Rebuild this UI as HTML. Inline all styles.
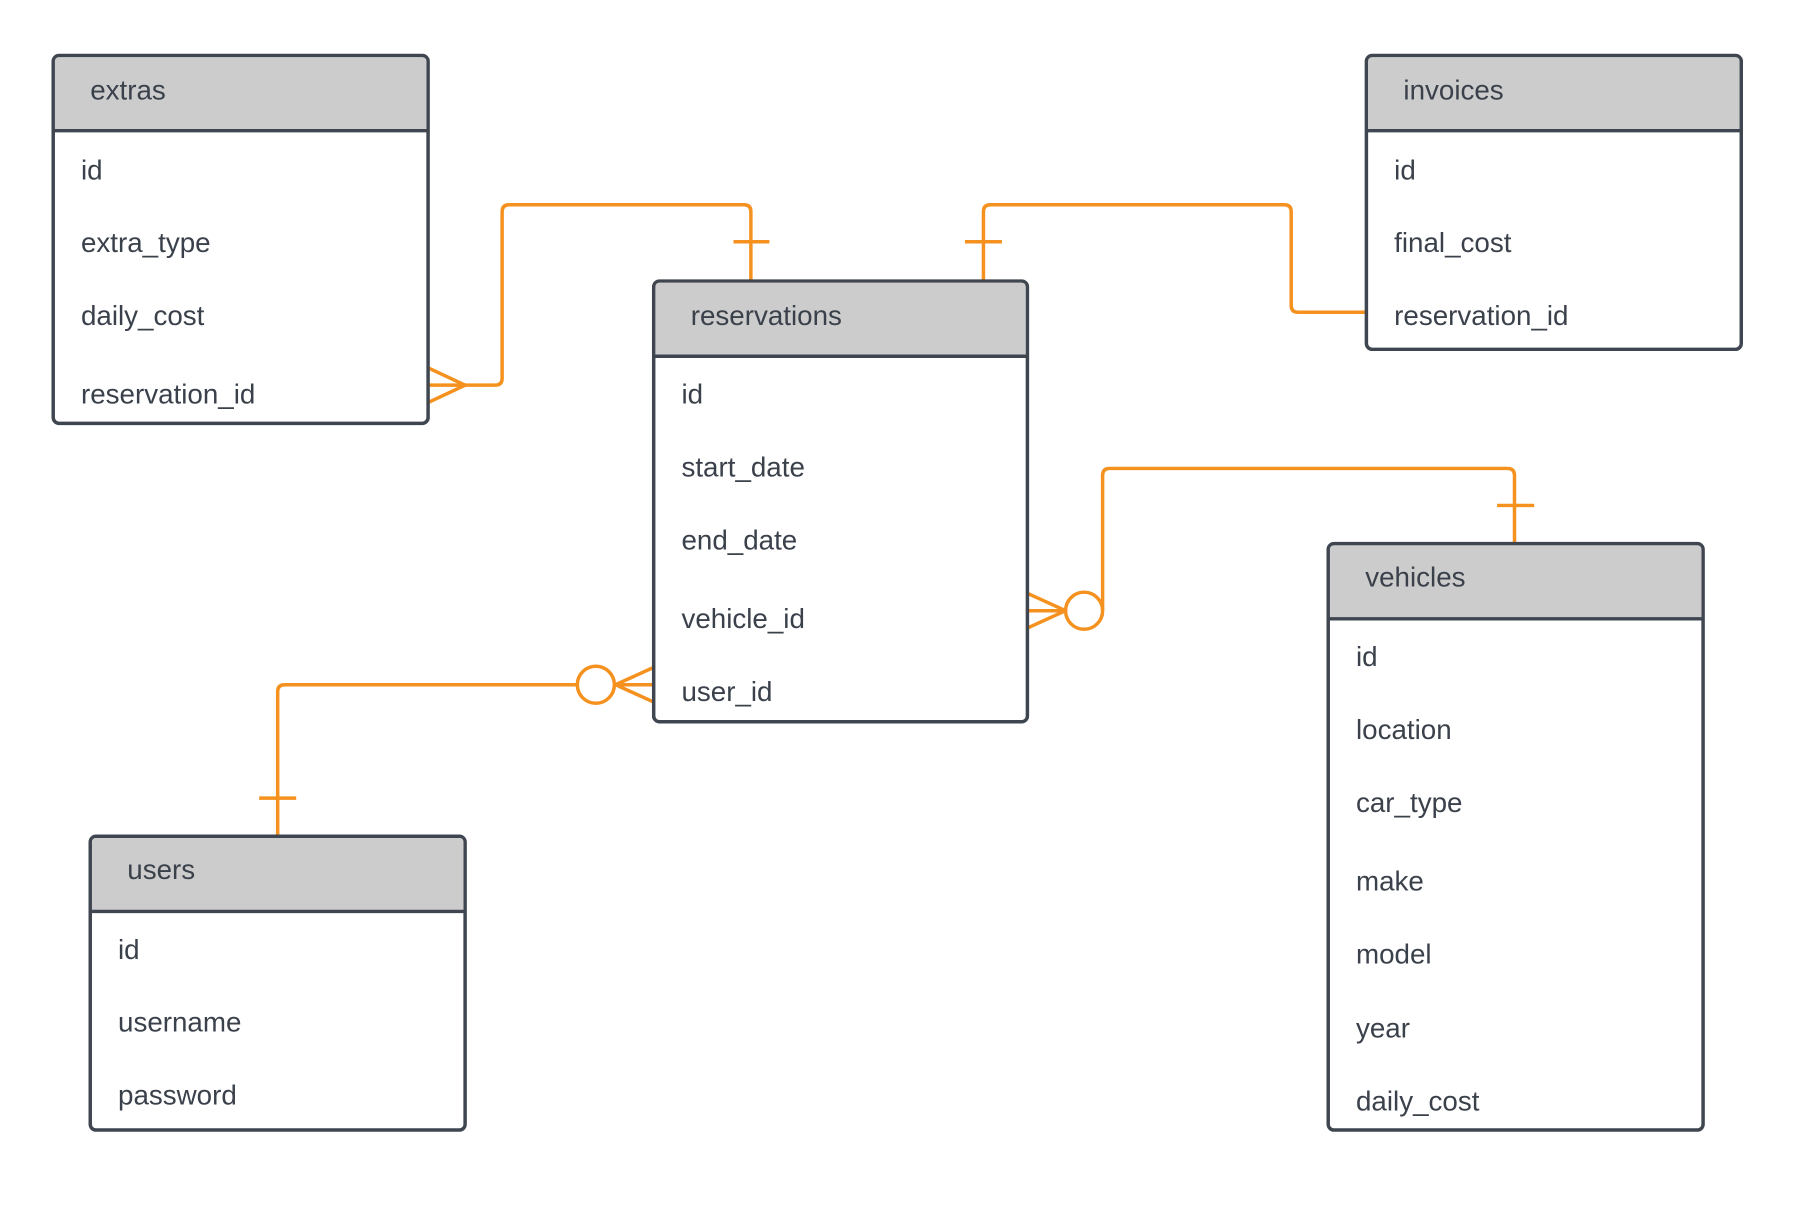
<!DOCTYPE html>
<html><head><meta charset="utf-8"><style>html,body{margin:0;padding:0;background:#fff}svg{display:block}</style></head>
<body>
<svg width="1813" height="1211" viewBox="0 0 1567 1047" preserveAspectRatio="none" xmlns="http://www.w3.org/2000/svg" font-family="'Liberation Sans', sans-serif" font-size="24" fill="#3a414b">
<g fill="none" stroke="#f5911e" stroke-width="3" stroke-linejoin="round">
<path d="M370 333 H428 Q434 333 434 327 V183 Q434 177 440 177 H643 Q649 177 649 183 V243"/>
<path d="M370 318 L402 333 L370 348"/>
<path d="M634 209 H665"/>
<path d="M1181 270 H1122 Q1116 270 1116 264 V183 Q1116 177 1110 177 H856 Q850 177 850 183 V243"/>
<path d="M834 209 H866"/>
<path d="M888 528 H921"/>
<path d="M888 513 L921 528 L888 543"/>
<circle cx="937" cy="528" r="16"/>
<path d="M953 528 V411 Q953 405 959 405 H1303 Q1309 405 1309 411 V470"/>
<path d="M1294 437 H1326"/>
<path d="M565 592 H531"/>
<path d="M565 577 L532 592 L565 607"/>
<circle cx="515" cy="592" r="16"/>
<path d="M499 592 H246 Q240 592 240 598 V723"/>
<path d="M224 690 H256"/>
</g>
<g stroke="#3f4650" stroke-width="3">
<rect x="46" y="48" width="324" height="318" rx="5" fill="#fff"/>
<path d="M51 49.5 H365 Q368.5 49.5 368.5 53 V113 H47.5 V53 Q47.5 49.5 51 49.5Z" fill="#cccccc" stroke="none"/>
<line x1="46" y1="113" x2="370" y2="113"/>
<rect x="1181" y="48" width="324" height="254" rx="5" fill="#fff"/>
<path d="M1186 49.5 H1500 Q1503.5 49.5 1503.5 53 V113 H1182.5 V53 Q1182.5 49.5 1186 49.5Z" fill="#cccccc" stroke="none"/>
<line x1="1181" y1="113" x2="1505" y2="113"/>
<rect x="565" y="243" width="323" height="381" rx="5" fill="#fff"/>
<path d="M570 244.5 H883 Q886.5 244.5 886.5 248 V308 H566.5 V248 Q566.5 244.5 570 244.5Z" fill="#cccccc" stroke="none"/>
<line x1="565" y1="308" x2="888" y2="308"/>
<rect x="1148" y="470" width="324" height="507" rx="5" fill="#fff"/>
<path d="M1153 471.5 H1467 Q1470.5 471.5 1470.5 475 V535 H1149.5 V475 Q1149.5 471.5 1153 471.5Z" fill="#cccccc" stroke="none"/>
<line x1="1148" y1="535" x2="1472" y2="535"/>
<rect x="78" y="723" width="324" height="254" rx="5" fill="#fff"/>
<path d="M83 724.5 H397 Q400.5 724.5 400.5 728 V788 H79.5 V728 Q79.5 724.5 83 724.5Z" fill="#cccccc" stroke="none"/>
<line x1="78" y1="788" x2="402" y2="788"/>
</g>
<g>
<text x="78" y="86">extras</text>
<text x="70" y="155">id</text><text x="70" y="218">extra_type</text><text x="70" y="281">daily_cost</text><text x="70" y="349">reservation_id</text>
<text x="1213" y="86">invoices</text>
<text x="1205" y="155">id</text><text x="1205" y="218">final_cost</text><text x="1205" y="281">reservation_id</text>
<text x="597" y="281">reservations</text>
<text x="589" y="349">id</text><text x="589" y="412">start_date</text><text x="589" y="475">end_date</text><text x="589" y="543">vehicle_id</text><text x="589" y="606">user_id</text>
<text x="1180" y="507">vehicles</text>
<text x="1172" y="576">id</text><text x="1172" y="639">location</text><text x="1172" y="702">car_type</text><text x="1172" y="770">make</text><text x="1172" y="833">model</text><text x="1172" y="897">year</text><text x="1172" y="960">daily_cost</text>
<text x="110" y="760">users</text>
<text x="102" y="829">id</text><text x="102" y="892">username</text><text x="102" y="955">password</text>
</g>
</svg>
</body></html>
